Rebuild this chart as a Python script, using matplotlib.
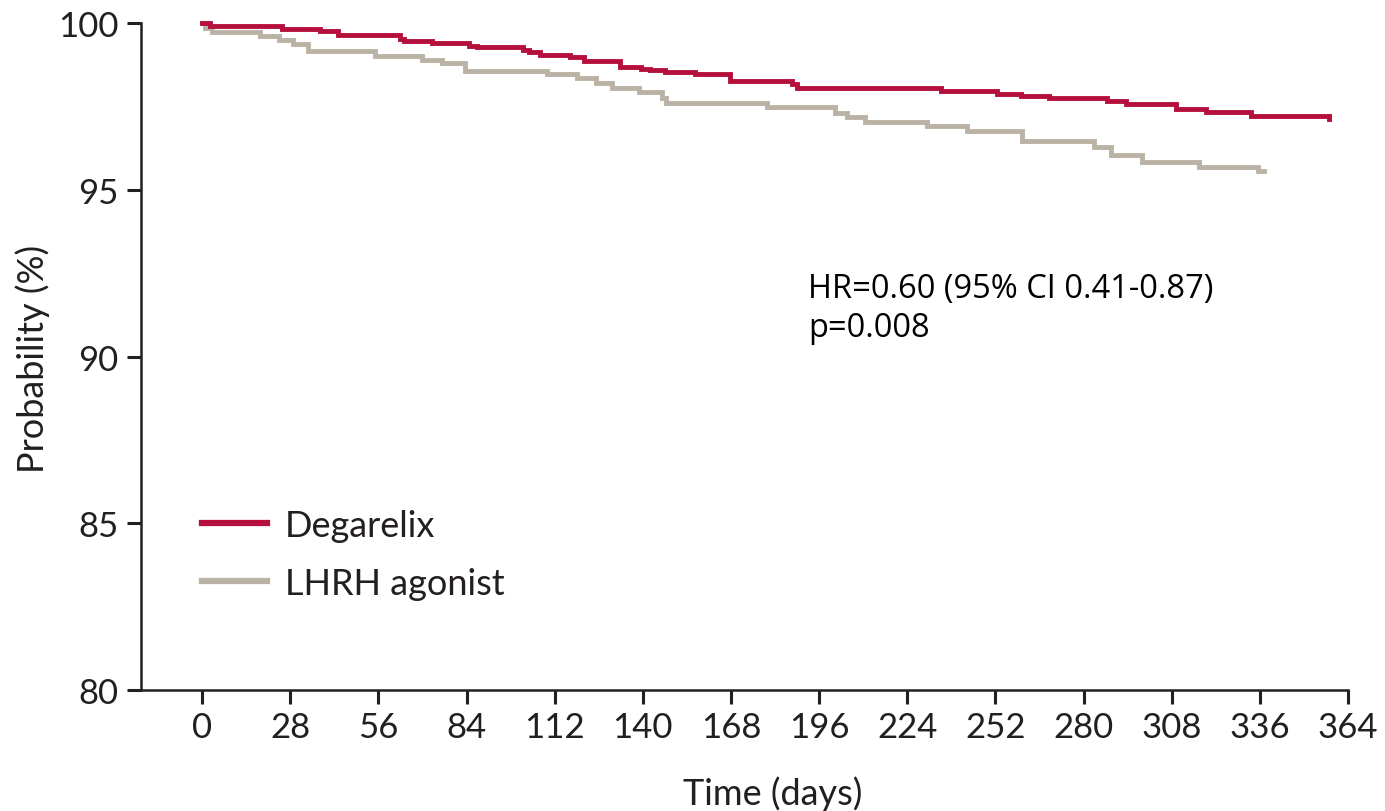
import matplotlib
matplotlib.use("Agg")
import matplotlib.pyplot as plt

# Kaplan-Meier step data: event times (days) and survival probability (%) after each step
degarelix_days = [0, 2.5, 25.3, 37.5, 43.3, 62.9, 64.0, 73.0, 84.7, 87.3, 102.0, 104.0,
                  107.3, 117.0, 121.2, 132.9, 139.3, 142.4, 147.2, 156.7, 167.8, 187.4,
                  189.0, 234.6, 252.6, 260.0, 269.0, 287.6, 293.4, 309.3, 318.9, 333.1, 358.0]
degarelix_prob = [100.0, 99.92, 99.82, 99.75, 99.65, 99.52, 99.45, 99.39, 99.32, 99.27, 99.20, 99.12,
                  99.05, 98.97, 98.87, 98.67, 98.62, 98.59, 98.54, 98.47, 98.27, 98.17,
                  98.05, 97.97, 97.87, 97.80, 97.74, 97.67, 97.57, 97.42, 97.34, 97.22, 97.12]

lhrh_days = [0, 1.0, 3.0, 18.4, 24.3, 29.0, 33.8, 55.0, 69.8, 76.2, 83.6, 109.6, 119.1,
             125.0, 130.2, 138.7, 146.0, 147.5, 179.5, 201.2, 204.9, 210.7, 230.4, 243.0,
             260.5, 283.3, 288.6, 298.7, 316.7, 335.3, 337.4]
lhrh_prob = [100.0, 99.85, 99.72, 99.60, 99.50, 99.37, 99.17, 99.02, 98.90, 98.79, 98.57, 98.47, 98.34,
             98.19, 98.04, 97.92, 97.75, 97.60, 97.47, 97.30, 97.17, 97.02, 96.90, 96.75,
             96.47, 96.29, 96.04, 95.84, 95.69, 95.57, 95.57]

x_ticks = [0, 28, 56, 84, 112, 140, 168, 196, 224, 252, 280, 308, 336, 364]
x_tick_labels = ["0", "28", "56", "84", "112", "140", "168", "196", "224", "252",
                 "280", "308", "336", "364"]
y_ticks = [80, 85, 90, 95, 100]

series_names = ["Degarelix", "LHRH agonist"]
hr_text = "HR=0.60 (95% CI 0.41-0.87)"
p_text = "p=0.008"

RED = "#B50F3C"
GREY = "#BAB2A4"
INK = "#231F20"

plt.rcParams["font.family"] = ["Lato", "DejaVu Sans"]

W, H = 1385, 812
fig = plt.figure(figsize=(W / 100, H / 100), dpi=100)
ax = fig.add_axes([141 / W, 1 - 691 / H, (1348 - 141) / W, (691 - 24) / H])

ax.step(degarelix_days, degarelix_prob, where="post", color=RED, lw=3.5,
        solid_joinstyle="miter", clip_on=False, label=series_names[0], zorder=3)
ax.step(lhrh_days, lhrh_prob, where="post", color=GREY, lw=3.5,
        solid_joinstyle="miter", clip_on=False, label=series_names[1], zorder=2)

ax.set_xlim(-19.4, 364)
ax.set_ylim(80, 100)
ax.set_xticks(x_ticks)
ax.set_xticklabels(x_tick_labels)
ax.set_yticks(y_ticks)

for side in ("top", "right"):
    ax.spines[side].set_visible(False)
for side in ("left", "bottom"):
    ax.spines[side].set_color(INK)
    ax.spines[side].set_linewidth(1.8)

ax.tick_params(axis="both", colors=INK, labelcolor=INK, labelsize=25,
               width=2.2, length=10, direction="out")
ax.tick_params(axis="x", pad=5)
ax.tick_params(axis="y", pad=6)

ax.set_xlabel("Time (days)", fontsize=26, color=INK)
ax.set_ylabel("Probability (%)", fontsize=26, color=INK)
ax.xaxis.set_label_coords((773 - 141) / 1207, (691 - 776) / 667)
ax.yaxis.set_label_coords((50 - 141) / 1207, (691 - 359) / 667)

leg = ax.legend(loc="upper left", bbox_to_anchor=(202 / W, 1 - 510 / H),
                bbox_transform=fig.transFigure, frameon=False, fontsize=26,
                handlelength=1.8, handletextpad=0.5, labelspacing=0.68,
                borderpad=0, borderaxespad=0)
for t in leg.get_texts():
    t.set_color(INK)
for h in leg.legend_handles:
    h.set_linewidth(4.5)

fig.text(808 / W, 1 - 298 / H, hr_text, fontsize=23.5, color="black", va="baseline",
         family=["Open Sans", "DejaVu Sans"])
fig.text(808 / W, 1 - 337 / H, p_text, fontsize=23.5, color="black", va="baseline",
         family=["Open Sans", "DejaVu Sans"])

fig.savefig("out.png", dpi=100, facecolor="white")
